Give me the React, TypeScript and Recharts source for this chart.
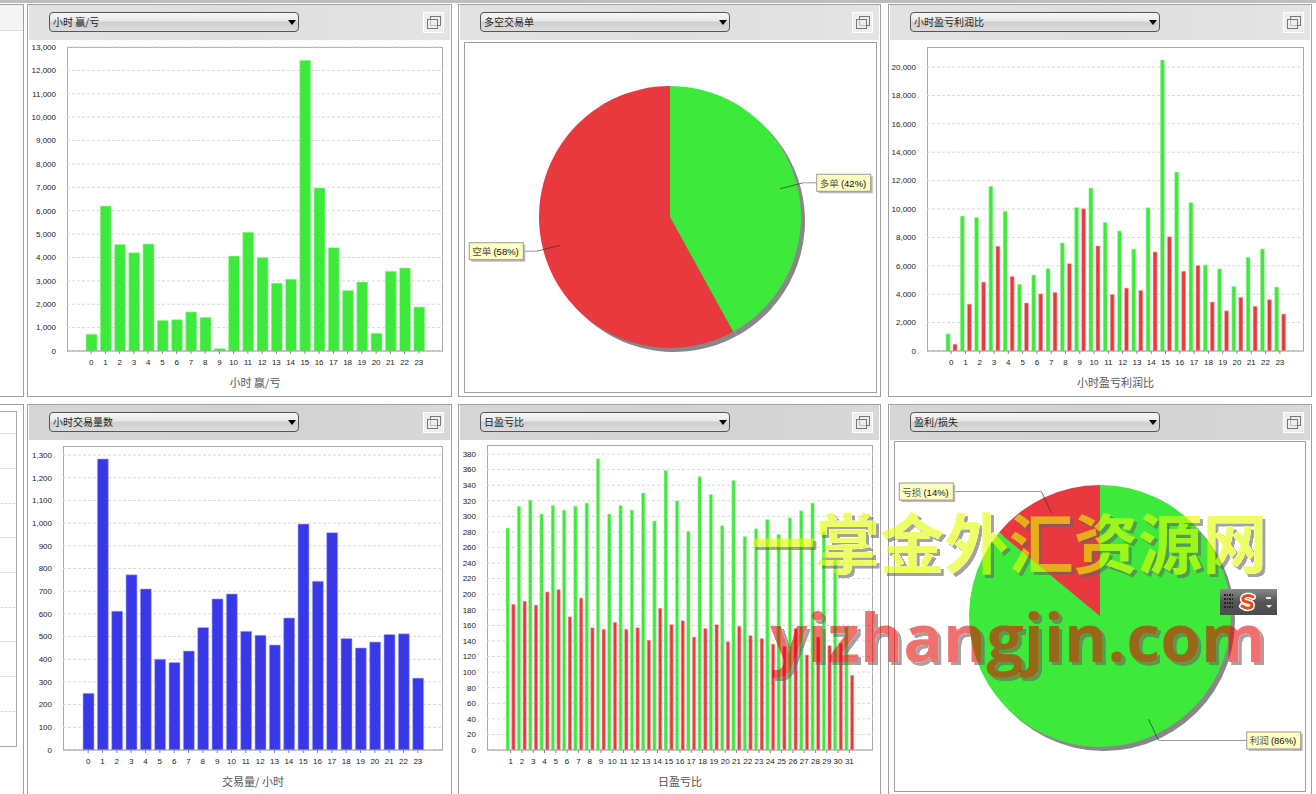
import React from 'react';
import { BarChart, Bar, XAxis, YAxis, CartesianGrid, PieChart, Pie, Cell } from 'recharts';

const GREEN = '#3de93a';
const RED = '#e8393e';
const BLUE = '#3838e8';

const hours = ['0','1','2','3','4','5','6','7','8','9','10','11','12','13','14','15','16','17','18','19','20','21','22','23'];
const days = ['1','2','3','4','5','6','7','8','9','10','11','12','13','14','15','16','17','18','19','20','21','22','23','24','25','26','27','28','29','30','31'];

const hourlyWinLoss = [720,6200,4550,4200,4580,1310,1340,1670,1440,100,4060,5080,4000,2900,3070,12430,6970,4420,2590,2950,760,3410,3550,1880];
const hourlyProfit = [1200,9500,9400,11600,9850,4700,5350,5800,7600,10100,11480,9050,8450,7180,10080,20500,12600,10450,6050,5780,4550,6600,7180,4500];
const hourlyLoss = [480,3300,4850,7380,5250,3380,4020,4130,6150,10020,7400,3980,4430,4270,6980,8050,5620,6020,3450,2830,3780,3150,3620,2600];
const hourlyVolume = [250,1283,612,772,710,400,386,436,540,666,688,523,506,463,582,996,744,958,491,450,476,509,512,317];
const dailyWin = [285,313,321,303,314,308,313,317,374,303,314,308,330,294,359,320,281,351,328,288,346,274,284,296,277,298,307,317,280,244,158];
const dailyLoss = [187,191,186,203,206,171,195,157,155,164,155,157,141,182,161,166,145,156,161,139,159,147,143,136,133,156,122,145,134,137,96];

const ticksWinLoss = [0,1000,2000,3000,4000,5000,6000,7000,8000,9000,10000,11000,12000,13000];
const ticksProfit = [0,2000,4000,6000,8000,10000,12000,14000,16000,18000,20000];
const ticksVolume = [0,100,200,300,400,500,600,700,800,900,1000,1100,1200,1300];
const ticksDaily = [0,20,40,60,80,100,120,140,160,180,200,220,240,260,280,300,320,340,360,380];

const longShortNames = ['多单','空单'];
const longShortValues = [42,58];
const profitLossNames = ['利润','亏损'];
const profitLossValues = [86,14];

const zip = (cats: string[], a: number[], b?: number[]) =>
  cats.map((c, i) => ({ c, a: a[i], b: b ? b[i] : undefined }));

const SANS = '"Liberation Sans", Arial, "Noto Sans CJK SC", sans-serif';
const CJK = '"Noto Sans CJK SC", sans-serif';

function Panel({ x, y, w, h, title, headBg }: any) {
  return (
    <div style={{ position: 'absolute', left: x, top: y, width: w, height: h, border: '1px solid #a0a0a0', background: '#fff', boxSizing: 'border-box' }}>
      <div style={{ position: 'absolute', left: 1, top: 0, right: 1, height: 35, background: headBg }} />
      <div style={{ position: 'absolute', left: 21, top: 7, width: 250, height: 20, boxSizing: 'border-box', border: '1px solid #555', borderRadius: 4, background: 'linear-gradient(#f6f6f6,#e8e8e8 45%,#cfcfcf 50%,#dcdcdc)', fontFamily: CJK, fontSize: 10, lineHeight: '18px', paddingLeft: 3, color: '#222' }}>
        {title}
        <div style={{ position: 'absolute', right: 2, top: 7, width: 0, height: 0, borderLeft: '4px solid transparent', borderRight: '4px solid transparent', borderTop: '5px solid #000' }} />
      </div>
      <div style={{ position: 'absolute', right: 7, top: 7, width: 21, height: 21, boxSizing: 'border-box', border: '1px solid #fff', background: '#eee' }}>
        <div style={{ position: 'absolute', left: 6, top: 3, width: 9, height: 8, border: '1.5px solid #777' }} />
        <div style={{ position: 'absolute', left: 3, top: 6, width: 9, height: 8, border: '1.5px solid #777', background: 'rgba(238,238,238,.6)' }} />
      </div>
    </div>
  );
}

function BarPanel({ x, y, w, h, data, ticks, max, title, pad, barSize, barGap, colors, strokes }: any) {
  const yw = 46;
  const axisH = 42;
  return (
    <>
      <div style={{ position: 'absolute', left: x, top: y, width: w, height: h, boxSizing: 'border-box', border: '1px solid #aaa', borderBottom: 'none' }} />
      <div style={{ position: 'absolute', left: x - yw, top: y - 6 }}>
        <BarChart width={w + yw} height={h + 6 + axisH} data={data} margin={{ top: 6, right: 0, bottom: 0, left: 0 }} barSize={barSize} barGap={barGap} barCategoryGap={0}>
          <CartesianGrid horizontal vertical={false} stroke="#d9d9d9" strokeDasharray="3 2" horizontalValues={ticks} />
          <XAxis dataKey="c" interval={0} height={axisH} padding={{ left: pad, right: pad }} tick={{ fontSize: 8, fontFamily: SANS, fill: '#222' }} tickLine={{ stroke: '#888' }} tickSize={3} tickMargin={5} axisLine={{ stroke: '#999' }}
            label={{ value: title, position: 'insideBottom', offset: 6, style: { fontFamily: CJK, fontSize: 11, fill: '#555' } }} />
          <YAxis width={yw} type="number" domain={[0, max]} ticks={ticks} interval={0} allowDataOverflow tickLine={false} tickMargin={5} axisLine={false} tickFormatter={(v: number) => v.toLocaleString('en-US')} tick={{ fontSize: 8, fontFamily: SANS, fill: '#222' }} />
          <Bar dataKey="a" fill={colors[0]} stroke={strokes[0]} strokeWidth={0.6} isAnimationActive={false} />
          {colors[1] ? <Bar dataKey="b" fill={colors[1]} stroke={strokes[1]} strokeWidth={0.6} isAnimationActive={false} /> : null}
        </BarChart>
      </div>
    </>
  );
}

const RAD = Math.PI / 180;
function pieLabel(names: string[]) {
  return (props: any) => {
    const { cx, cy, outerRadius: r, midAngle, index, percent } = props;
    const sin = Math.cos((midAngle) * RAD);
    const cos = -Math.sin((midAngle) * RAD);
    const right = sin >= 0;
    const p0 = [cx + 0.87 * r * sin, cy + 0.87 * r * cos];
    const p1 = [cx + 1.05 * r * sin, cy + 1.05 * r * cos];
    const bw = 54;
    const bx = right ? cx + 1.12 * r : cx - 1.12 * r - bw;
    const by = p1[1] - 8.5;
    const edge = right ? bx : bx + bw;
    return (
      <g key={index}>
        <polyline points={`${p0[0]},${p0[1]} ${p1[0]},${p1[1]}`} stroke="#333" strokeWidth={0.7} fill="none" />
        <line x1={p1[0]} y1={p1[1]} x2={edge} y2={p1[1]} stroke="#999" strokeWidth={1} />
        <rect x={bx + 2} y={by + 2} width={bw} height={17} fill="#bbb" />
        <rect x={bx} y={by} width={bw} height={17} fill="#ffffc4" stroke="#999" strokeWidth={1} />
        <text x={bx + 3} y={by + 12.5} fontSize={9.5} fontFamily={CJK} fill="#555">
          {names[index]}{' '}
          <tspan fontFamily={SANS} fill="#111">({Math.round(percent * 100)}%)</tspan>
        </text>
      </g>
    );
  };
}

function PiePanel({ x, y, w, h, cx, cy, r, names, values, colors }: any) {
  const data = names.map((name: string, i: number) => ({ name, value: values[i] }));
  return (
    <div style={{ position: 'absolute', left: x, top: y, width: w, height: h, boxSizing: 'border-box', border: '1px solid #a0a0a0', background: '#fff' }}>
      <div style={{ position: 'absolute', left: -1, top: -1 }}>
        <PieChart width={w} height={h} margin={{ top: 0, right: 0, bottom: 0, left: 0 }}>
          <Pie data={data} dataKey="value" cx={cx + 4} cy={cy + 4} outerRadius={r} startAngle={90} endAngle={-270} fill="#888" stroke="none" isAnimationActive={false} />
          <Pie data={data} dataKey="value" cx={cx} cy={cy} outerRadius={r} startAngle={90} endAngle={-270} stroke="none" labelLine={false} label={pieLabel(names)} isAnimationActive={false}>
            {data.map((d: any, i: number) => <Cell key={d.name} fill={colors[i]} />)}
          </Pie>
        </PieChart>
      </div>
    </div>
  );
}

const leftGrid = [433, 468, 503, 537, 572, 607, 641, 676, 711];
const sogouDots = [0, 1, 2, 3, 4, 5, 6, 7, 8, 9, 10, 11, 12, 13, 14, 15];

export default function App() {
  const top = 'linear-gradient(90deg,#e2e2e2,#dedede 50%,#e4e4e4)';
  const bot = 'linear-gradient(90deg,#d6d6d6,#d2d2d2 50%,#d8d8d8)';
  return (
    <div style={{ position: 'fixed', left: 0, top: 0, width: 1316, height: 794, overflow: 'hidden', background: '#fff' }}>
      <svg width={0} height={0} style={{ position: 'absolute' }}>
        <filter id="wmShadow" x="-5%" y="-5%" width="110%" height="120%" colorInterpolationFilters="sRGB">
          <feOffset in="SourceAlpha" dx={3} dy={3} result="off" />
          <feComponentTransfer in="off" result="solid"><feFuncA type="linear" slope={3} /></feComponentTransfer>
          <feFlood floodColor="#666" floodOpacity={0.6} />
          <feComposite in2="solid" operator="in" result="shade" />
          <feComponentTransfer in="SourceAlpha" result="mask"><feFuncA type="linear" slope={3} /></feComponentTransfer>
          <feComposite in="shade" in2="mask" operator="out" result="outer" />
          <feMerge><feMergeNode in="outer" /><feMergeNode in="SourceGraphic" /></feMerge>
        </filter>
      </svg>
      <div style={{ position: 'absolute', left: 0, top: 0, width: 1316, height: 3, background: '#bdbdbd' }} />
      {/* left cut-off panels */}
      <div style={{ position: 'absolute', left: -10, top: 4, width: 34, height: 393, boxSizing: 'border-box', border: '1px solid #a0a0a0' }}>
        <div style={{ height: 25, borderBottom: '1px solid #ddd', background: '#f4f4f4' }} />
      </div>
      <div style={{ position: 'absolute', left: -10, top: 404, width: 34, height: 400, boxSizing: 'border-box', border: '1px solid #a0a0a0' }} />
      <div style={{ position: 'absolute', left: -10, top: 411, width: 27, height: 336, boxSizing: 'border-box', border: '1px solid #aaa' }} />
      {leftGrid.map(g => <div key={g} style={{ position: 'absolute', left: 0, top: g, width: 16, borderTop: '1px dashed #d9d9d9' }} />)}

      <Panel x={27} y={4} w={425} h={393} title="小时 赢/亏" headBg={top} />
      <Panel x={458} y={4} w={423} h={393} title="多空交易单" headBg={top} />
      <Panel x={888} y={4} w={424} h={393} title="小时盈亏利润比" headBg={top} />
      <Panel x={27} y={404} w={425} h={400} title="小时交易量数" headBg={bot} />
      <Panel x={458} y={404} w={423} h={400} title="日盈亏比" headBg={bot} />
      <Panel x={888} y={404} w={424} h={400} title="盈利/损失" headBg={bot} />

      <BarPanel x={67} y={47} w={376} h={304} data={zip(hours, hourlyWinLoss)} ticks={ticksWinLoss} max={13000} title="小时 赢/亏" pad={17} barSize={11} colors={[GREEN]} strokes={['#b0f5ae']} />
      <PiePanel x={464} y={42} w={413} h={351} cx={206} cy={175} r={131} names={longShortNames} values={longShortValues} colors={[GREEN, RED]} />
      <BarPanel x={927} y={47} w={377} h={304} data={zip(hours, hourlyProfit, hourlyLoss)} ticks={ticksProfit} max={21408} title="小时盈亏利润比" pad={17} barSize={4} barGap={3} colors={[GREEN, RED]} strokes={['#b0f5ae', '#f5b0b0']} />
      <BarPanel x={63} y={446} w={380} h={304} data={zip(hours, hourlyVolume)} ticks={ticksVolume} max={1340} title="交易量/ 小时" pad={18} barSize={11} colors={[BLUE]} strokes={['#b4b4f5']} />
      <BarPanel x={487} y={445} w={386} h={305} data={zip(days, dailyWin, dailyLoss)} ticks={ticksDaily} max={391.6} title="日盈亏比" pad={18} barSize={3.4} barGap={2.3} colors={[GREEN, RED]} strokes={['#b0f5ae', '#f5b0b0']} />
      <PiePanel x={894} y={441} w={412} h={351} cx={206} cy={175} r={131} names={profitLossNames} values={profitLossValues} colors={[GREEN, RED]} />

      {/* overlays baked into the screenshot */}
      <div style={{ position: 'absolute', left: 751, top: 514, whiteSpace: 'nowrap', fontFamily: '"Liberation Sans", "Noto Sans CJK SC", sans-serif', fontWeight: 700, fontSize: 64.5, lineHeight: '64px', color: 'rgba(227,255,0,.6)', filter: 'url(#wmShadow)' }}>一掌金外汇资源网</div>
      <div style={{ position: 'absolute', left: 770, top: 606, whiteSpace: 'nowrap', fontFamily: '"Open Sans", sans-serif', fontWeight: 700, fontSize: 66, lineHeight: '60px', color: 'rgba(228,0,0,.56)', filter: 'url(#wmShadow)' }}>yizhangjin.com</div>
      <div style={{ position: 'absolute', left: 1220, top: 589, width: 57, height: 26, background: 'linear-gradient(#8a8a8a,#555 50%,#4c4c4c)' }}>
        {sogouDots.map(d => <div key={d} style={{ position: 'absolute', left: 4 + (d % 4) * 2.6, top: 5 + Math.floor(d / 4) * 4, width: 1.5, height: 1.5, background: '#222' }} />)}
        <svg width={20} height={20} style={{ position: 'absolute', left: 18, top: 3 }}>
          <path d="M15 5 C10 2 4 4 5 8 C6 11 14 9 14 13 C14 17 8 17 4 14" fill="none" stroke="#fff" strokeWidth={6} strokeLinecap="round" />
          <path d="M15 5 C10 2 4 4 5 8 C6 11 14 9 14 13 C14 17 8 17 4 14" fill="none" stroke="#f04a12" strokeWidth={3} strokeLinecap="round" />
        </svg>
        <div style={{ position: 'absolute', left: 46, top: 8, width: 5, height: 2, background: '#eee' }} />
        <div style={{ position: 'absolute', left: 46, top: 16, width: 0, height: 0, borderLeft: '3px solid transparent', borderRight: '3px solid transparent', borderTop: '3px solid #eee' }} />
      </div>
    </div>
  );
}
